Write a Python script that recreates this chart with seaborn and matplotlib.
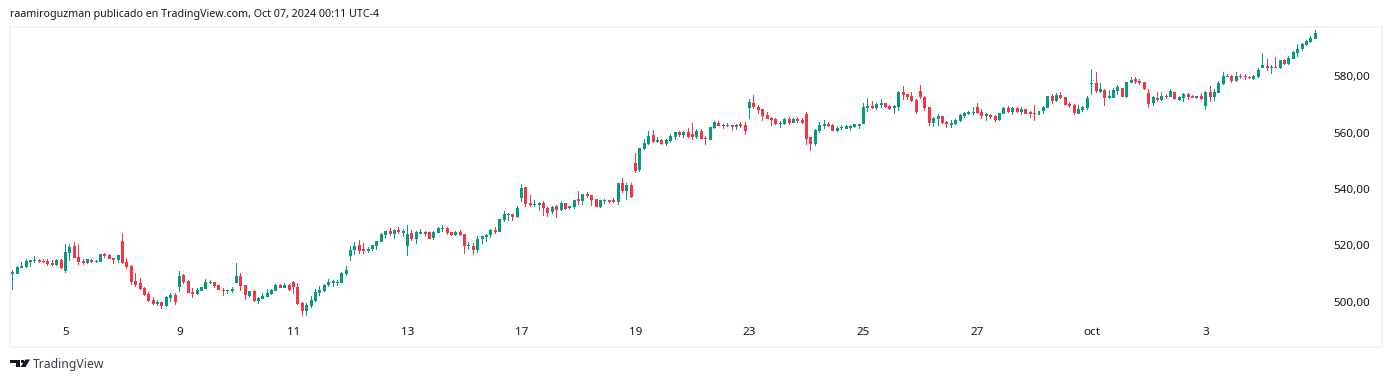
"""
SPY 30 minute candles, Sep 4 - Oct 4 2024, TradingView snapshot look.
"""
import matplotlib
matplotlib.use('Agg')
import matplotlib.pyplot as plt
from matplotlib.patches import Polygon
from matplotlib.transforms import ScaledTranslation
import numpy as np
import pandas as pd
import seaborn as sns

sns.set_style('white')
plt.rcParams['font.family'] = ['Noto Sans', 'DejaVu Sans']

GREEN = '#089981'
RED = '#f23645'
TEXT = '#131722'
BORDER = '#f0f3fa'

directions = list(
    'G' 'GGGGGG' 'RRRR' 'G' 'R' 'GG' 'RRR' 'G' 'R' 'GG' 'RRR' 'G' 'RRRRRRRR' 'G' 'R' 'GG' 'R'
    'GRRRGGGGRRRGGGRRGRGGGGGRGRRRRGGGGGGGGGG'
    'GGRRGGGGGRGRGGRGGRRGGGRRGRRGRGGGGRGGGRG'
    'GRRGGRRGRGRGGRGRRRGGRRGRGRRGGGRGRGGGRGR'
    'RGRRGGRRGRGRRGRRRRRRGGRGRRRRGGGRRGGGGGG'
    'GGRGGRRGGRRRRRRRGGRRGGGGGGRRGRRGGRGRGR'
    'RRGGGRGRRRRGGGGRGRGGGRGGRRRRGRGRGRGGRRG'
    'RGRGGGGRGRRRGGGRGRGRGGGGGGG'
)

highs = [
    510.3,
    511.5, 512.9, 514.3, 515.4, 515.1, 516.5, 515.4, 515.4, 515.4, 515.1, 515.4, 515.4, 520.7,
    520.7, 521.4, 520.7, 515.4, 515.4, 515.4, 515.1, 517.2, 517.5, 517.2, 515.8, 516.8, 524.6,
    515.8, 513.3, 510.4, 508.7, 505.5, 503.7, 501.9, 500.9, 500.2, 502.3, 503.3, 503.3,
    511.2, 510.1, 508.0, 505.1, 505.1, 505.5, 508.3, 508.0, 507.2, 506.2, 505.1, 504.4, 505.5,
    514.0, 510.4, 506.2, 504.0, 504.4, 501.9, 503.3, 504.8, 504.8, 506.5, 506.5, 506.9, 506.5,
    507.6, 506.9, 500.2, 499.8, 502.3, 504.8, 505.8, 506.5, 508.3, 508.0, 508.0, 510.8, 512.9,
    520.0, 521.4, 522.2, 521.1, 519.7, 520.4, 521.8, 524.6, 525.4, 526.4, 526.1, 526.8, 526.1,
    527.5, 525.7, 525.4, 526.1, 525.4, 525.0, 525.4, 526.8, 527.5, 526.8, 525.0, 525.4, 525.7,
    524.3, 521.4, 521.1, 523.6, 523.6, 524.3, 526.1, 526.8, 529.6, 532.4, 531.7, 531.4, 534.2,
    542.0, 540.9, 538.1, 536.3, 535.6, 536.0, 533.9, 534.2, 534.6, 536.0, 535.3, 534.2, 536.3,
    539.5, 538.5, 539.2, 538.1, 536.7, 536.3, 536.7, 536.3, 537.1, 542.4, 544.2, 542.4, 542.4,
    553.0, 554.8, 558.0, 560.8, 561.2, 558.7, 558.0, 558.0, 559.8, 560.5, 560.8, 560.8, 561.9,
    563.7, 561.5, 561.5, 559.1, 562.3, 564.4, 564.4, 563.3, 563.7, 563.0, 563.3, 564.0, 564.0,
    572.2, 573.6, 570.1, 568.6, 567.6, 565.8, 565.5, 564.4, 565.5, 565.8, 565.5, 565.8, 565.5,
    567.6, 558.7, 561.5, 564.0, 564.7, 564.0, 563.3, 562.6, 563.0, 563.0, 563.0, 563.3, 563.3,
    570.8, 572.5, 571.5, 570.8, 572.2, 570.8, 570.1, 570.1, 575.0, 576.8, 574.0, 574.7, 572.2,
    577.1, 573.3, 569.4, 565.8, 566.9, 566.2, 564.4, 564.7, 565.1, 566.9, 567.6, 567.9, 569.4,
    570.8, 568.6, 567.2, 566.9, 566.5, 567.2, 569.4, 569.7, 569.4, 569.4, 569.4, 568.6,
    567.9, 570.1, 568.3, 569.7, 573.3, 574.0, 574.3, 574.7, 572.9, 571.1, 570.4, 570.1, 569.7,
    573.3, 582.8, 581.8, 577.9, 575.7, 575.4, 576.1, 577.2, 576.1, 578.2, 580.0, 580.0, 579.3,
    578.2, 575.7, 573.3, 574.7, 574.7, 574.0, 575.7, 574.7, 573.3, 574.3, 574.3, 573.6, 573.3,
    574.3, 575.0, 576.8, 575.7, 578.6, 581.8, 581.1, 580.7, 581.8, 581.1, 581.1, 580.4, 580.7,
    583.2, 588.5, 586.4, 584.3, 587.1, 586.0, 586.4, 587.5, 589.2, 591.7, 592.1, 593.1, 594.6,
    596.7,
]

body_tops = [
    510.3,
    510.9, 512.5, 512.9, 514.7, 515.1, 515.1, 515.1, 514.7, 514.7, 514.0, 515.1, 515.1, 517.9,
    519.7, 520.0, 516.1, 514.7, 515.4, 515.1, 514.7, 517.2, 517.2, 516.8, 515.8, 516.8, 521.8,
    514.3, 512.9, 507.6, 506.9, 505.1, 503.0, 500.9, 500.2, 500.2, 501.9, 502.6, 502.6,
    509.4, 509.7, 507.6, 503.7, 504.4, 505.5, 507.2, 507.2, 507.2, 506.2, 504.4, 504.4, 504.8,
    509.4, 509.4, 506.2, 504.0, 504.0, 501.6, 502.3, 503.3, 504.4, 506.2, 506.2, 506.2, 506.2,
    507.2, 505.5, 499.8, 499.1, 500.9, 503.7, 504.4, 506.2, 507.2, 507.6, 507.2, 510.4, 511.5,
    518.6, 520.0, 520.4, 519.0, 519.0, 520.4, 521.8, 524.3, 525.4, 525.4, 525.7, 525.7, 525.4,
    524.3, 524.6, 525.0, 525.0, 525.0, 525.0, 525.0, 526.4, 526.4, 526.4, 525.0, 525.0, 525.0,
    524.3, 520.4, 520.0, 522.5, 523.6, 523.9, 525.7, 525.7, 529.6, 531.4, 531.4, 531.4, 533.5,
    540.6, 540.9, 535.3, 534.9, 535.3, 535.3, 533.5, 533.9, 534.2, 535.3, 535.3, 534.2, 536.3,
    536.7, 538.5, 538.5, 538.1, 536.7, 536.3, 536.3, 536.3, 536.3, 542.4, 542.4, 541.7, 541.7,
    549.5, 554.8, 556.6, 559.1, 559.4, 557.6, 557.6, 557.6, 559.1, 560.5, 560.5, 560.5, 560.5,
    559.8, 560.8, 560.8, 558.4, 562.3, 564.0, 563.7, 563.0, 563.0, 563.0, 563.0, 563.3, 563.0,
    571.1, 570.8, 569.4, 568.6, 566.5, 565.5, 565.1, 563.7, 565.1, 565.1, 565.1, 565.1, 564.7,
    566.9, 558.7, 561.2, 563.0, 563.3, 563.3, 563.0, 561.9, 562.3, 562.6, 562.6, 563.3, 563.3,
    569.4, 569.7, 569.7, 570.4, 570.8, 570.8, 569.7, 569.7, 574.7, 574.7, 574.0, 573.3, 571.8,
    575.0, 572.9, 569.4, 565.4, 566.2, 566.2, 564.0, 563.7, 564.7, 566.5, 567.2, 567.6, 567.6,
    569.4, 567.6, 566.9, 566.5, 566.2, 567.2, 569.0, 569.0, 569.0, 569.0, 568.6, 568.6,
    567.6, 567.2, 567.9, 569.4, 573.3, 573.3, 573.6, 573.6, 572.9, 570.4, 570.1, 568.6, 569.4,
    572.5, 577.9, 577.9, 575.7, 575.4, 573.3, 575.4, 576.4, 576.1, 578.2, 578.9, 579.3, 578.6,
    578.2, 574.3, 572.9, 572.5, 573.3, 573.3, 575.0, 574.7, 572.9, 574.0, 574.0, 573.3, 573.3,
    573.3, 574.7, 574.7, 574.7, 577.9, 580.4, 580.4, 580.4, 580.4, 580.4, 580.4, 580.0, 580.4,
    582.5, 584.3, 583.9, 583.5, 583.5, 586.0, 586.0, 586.7, 588.9, 589.9, 591.7, 592.8, 593.8,
    595.6,
]

body_bottoms = [
    505.6,
    510.1, 510.1, 512.2, 512.6, 514.3, 514.7, 514.3, 514.3, 513.6, 513.3, 513.3, 512.2, 511.2,
    517.5, 515.8, 514.3, 514.0, 514.0, 514.3, 514.3, 514.3, 516.5, 515.4, 515.1, 515.1, 514.0,
    512.6, 507.2, 506.2, 504.8, 502.6, 500.5, 499.4, 499.4, 498.7, 498.7, 501.6, 500.2,
    505.5, 507.2, 503.3, 503.0, 503.0, 504.0, 504.8, 506.9, 505.8, 504.4, 504.0, 504.0, 504.0,
    506.9, 505.8, 502.6, 502.3, 500.5, 500.5, 501.2, 501.9, 503.0, 504.0, 505.1, 505.1, 504.4,
    505.5, 499.4, 497.0, 497.0, 498.7, 500.5, 503.3, 504.0, 506.2, 506.9, 506.9, 506.9, 510.1,
    516.5, 518.6, 518.3, 518.3, 518.3, 519.0, 520.0, 521.4, 523.9, 524.3, 524.3, 525.0, 524.6,
    520.0, 522.5, 522.5, 524.3, 524.3, 522.5, 522.9, 524.6, 526.1, 524.6, 523.9, 523.9, 523.9,
    520.0, 520.0, 518.6, 518.6, 522.5, 523.2, 523.9, 525.0, 525.0, 529.3, 531.1, 530.3, 530.3,
    537.1, 534.9, 534.6, 534.6, 534.6, 533.5, 531.7, 532.1, 532.8, 532.8, 533.1, 533.5, 533.9,
    536.0, 536.0, 537.8, 536.3, 533.9, 533.9, 536.0, 535.6, 535.6, 535.6, 539.5, 539.5, 537.4,
    546.6, 547.0, 554.4, 556.2, 556.9, 556.9, 556.2, 556.2, 557.3, 558.7, 559.4, 559.4, 558.7,
    558.7, 558.7, 558.0, 558.0, 557.6, 561.9, 562.6, 562.6, 562.6, 562.3, 562.3, 562.6, 560.8,
    569.0, 569.4, 568.3, 566.2, 565.1, 564.7, 563.3, 563.3, 563.3, 563.7, 563.7, 564.4, 563.7,
    558.0, 556.2, 556.2, 560.8, 562.6, 562.6, 560.8, 560.8, 561.9, 561.5, 561.9, 562.3, 562.6,
    563.3, 569.0, 569.0, 569.0, 570.1, 569.4, 568.6, 569.0, 569.4, 573.6, 572.9, 571.5, 567.6,
    572.9, 569.0, 563.7, 563.7, 565.1, 563.7, 563.3, 563.0, 563.3, 564.4, 566.2, 566.9, 567.2,
    567.2, 566.2, 566.2, 565.8, 564.7, 564.7, 566.9, 567.6, 567.6, 567.6, 567.6, 566.9,
    566.9, 567.0, 566.5, 567.9, 569.0, 571.5, 571.5, 572.5, 570.1, 569.7, 567.2, 566.9, 568.3,
    569.0, 577.5, 575.0, 574.7, 572.5, 572.5, 572.5, 575.0, 572.9, 572.9, 577.9, 578.2, 577.9,
    575.7, 570.4, 570.8, 571.8, 571.8, 572.9, 572.9, 572.2, 571.8, 572.5, 572.9, 572.5, 572.5,
    572.2, 569.7, 572.9, 572.9, 574.3, 577.5, 580.0, 578.6, 578.6, 580.0, 580.0, 579.6, 579.3,
    580.0, 583.2, 583.2, 583.2, 583.2, 583.2, 584.6, 584.6, 586.4, 588.5, 589.9, 591.4, 592.4,
    593.5,
]

lows = [
    505.6,
    504.4, 510.1, 512.2, 512.1, 512.6, 514.0, 514.0, 514.0, 512.9, 512.9, 512.9, 511.9, 510.4,
    514.7, 515.8, 513.3, 513.3, 513.6, 514.0, 514.0, 514.3, 515.8, 515.4, 513.6, 514.0, 513.6,
    511.9, 506.2, 505.5, 504.4, 502.3, 500.2, 499.1, 498.7, 497.7, 498.4, 500.2, 499.1,
    503.7, 506.5, 503.3, 501.6, 502.6, 504.0, 504.8, 506.5, 505.1, 504.4, 502.3, 503.0, 503.3,
    506.9, 504.0, 500.9, 501.6, 500.2, 499.4, 501.2, 501.9, 502.6, 504.0, 505.1, 505.1, 504.0,
    503.0, 499.1, 495.2, 495.2, 498.0, 500.2, 502.3, 503.7, 505.5, 505.5, 505.8, 506.9, 509.4,
    514.7, 516.8, 517.2, 517.2, 517.5, 518.3, 518.6, 521.4, 522.9, 523.6, 522.5, 524.3, 523.2,
    516.5, 521.8, 520.7, 524.3, 523.6, 522.5, 522.2, 524.6, 525.0, 523.9, 523.6, 523.6, 523.6,
    517.2, 518.6, 516.8, 517.5, 520.7, 521.4, 522.9, 524.3, 525.0, 528.5, 528.9, 528.9, 530.0,
    535.6, 533.9, 533.9, 533.9, 532.4, 530.7, 530.3, 531.4, 530.0, 532.4, 532.8, 532.8, 533.1,
    534.6, 534.6, 537.1, 534.2, 533.9, 533.5, 534.9, 534.9, 535.3, 534.6, 538.8, 536.3, 537.1,
    545.9, 546.3, 554.1, 555.9, 556.6, 556.6, 555.9, 555.5, 556.6, 557.6, 558.7, 558.4, 558.4,
    557.6, 558.0, 558.0, 555.9, 557.6, 561.5, 562.6, 561.5, 562.3, 560.8, 561.2, 561.9, 559.4,
    565.1, 568.6, 566.9, 564.4, 565.1, 562.6, 563.0, 561.9, 563.0, 563.0, 563.7, 563.7, 563.3,
    555.9, 553.7, 555.5, 560.1, 561.5, 562.3, 560.8, 560.5, 561.2, 561.5, 560.8, 561.9, 561.5,
    563.3, 567.6, 568.6, 568.3, 569.0, 569.0, 568.3, 566.9, 567.9, 571.8, 571.8, 571.1, 566.9,
    572.2, 567.9, 562.6, 562.2, 562.6, 563.3, 561.9, 561.9, 563.0, 564.0, 565.4, 566.5, 566.5,
    566.9, 565.1, 564.4, 565.1, 564.0, 564.4, 566.9, 567.2, 566.5, 567.2, 566.5, 566.9,
    565.4, 564.4, 564.4, 566.9, 569.0, 570.4, 571.1, 572.2, 570.1, 569.0, 566.5, 566.9, 567.6,
    568.3, 573.6, 574.3, 574.3, 569.7, 572.2, 572.5, 573.6, 572.9, 572.5, 577.9, 577.5, 577.2,
    575.4, 569.0, 569.7, 571.1, 571.5, 572.2, 572.9, 571.8, 571.5, 571.1, 571.8, 572.5, 572.2,
    571.8, 568.3, 571.1, 571.5, 574.3, 577.2, 580.0, 577.9, 578.2, 579.3, 578.9, 579.3, 578.9,
    579.6, 583.2, 582.1, 581.1, 583.2, 582.8, 584.3, 584.3, 586.4, 587.1, 589.2, 591.0, 592.1,
    593.5,
]

price_ticks = [500, 520, 540, 560, 580]
date_ticks = [13, 39, 65, 91, 117, 143, 169, 195, 221, 247, 273]
date_labels = ['5', '9', '11', '13', '17', '19', '23', '25', '27', 'oct', '3']

df = pd.DataFrame({
    'bar': np.arange(len(highs)),
    'high': highs,
    'low': lows,
    'top': body_tops,
    'bottom': body_bottoms,
    'direction': directions,
})
df['range'] = df['high'] - df['low']
df['body'] = df['top'] - df['bottom']

# ── Figure, pane is one axes with a pale frame ────────────────────────────────
W, H = 1392, 382
fig = plt.figure(figsize=(W / 100, H / 100), dpi=100, facecolor='white')
ax = fig.add_axes([10 / W, 1 - 346.5 / H, 1372 / W, 319.5 / H])

# ── Candles ───────────────────────────────────────────────────────────────────
for key, color in [('G', GREEN), ('R', RED)]:
    sub = df[df['direction'] == key]
    sns.barplot(data=sub, x='bar', y='range', bottom=sub['low'].values, native_scale=True,
                width=0.228, color=color, saturation=1, errorbar=None, linewidth=0, ax=ax)
    sns.barplot(data=sub, x='bar', y='body', bottom=sub['bottom'].values, native_scale=True,
                width=0.684, color=color, saturation=1, errorbar=None, linewidth=0, ax=ax)

ax.set_xlim(0.34, 313.22)
ax.set_ylim(484.35, 597.75)
ax.set_xlabel('')
ax.set_ylabel('')

# ── Axis labels sit inside the frame ──────────────────────────────────────────
ax.yaxis.tick_right()
ax.set_yticks(price_ticks)
ax.set_yticklabels([f'{p},00' for p in price_ticks])
ax.tick_params(axis='y', length=0, pad=-35.2, labelsize=8.4, labelcolor=TEXT)
ax.set_xticks(date_ticks)
ax.set_xticklabels(date_labels)
ax.tick_params(axis='x', length=0, pad=-13.8, labelsize=8.4, labelcolor=TEXT)
for lab in ax.get_xticklabels():
    if lab.get_text() == 'oct':
        lab.set_fontweight('bold')
lift = ScaledTranslation(0, 0.7 / 100, fig.dpi_scale_trans)
for lab in ax.get_yticklabels():
    lab.set_transform(lab.get_transform() + lift)

for s in ax.spines.values():
    s.set_visible(True)
    s.set_color(BORDER)
    s.set_linewidth(1.44)

# ── Header and footer ─────────────────────────────────────────────────────────
fig.text(10 / W, 1 - 14 / H, 'raamiroguzman publicado en TradingView.com, Oct 07, 2024 00:11 UTC-4',
         fontsize=7.68, color=TEXT, ha='left', va='center')
fig.text(33 / W, 1 - 364.5 / H, 'TradingView', fontsize=8.8, color='#3a3e4a', ha='left', va='center')


def px(points):
    return [(x / W, 1 - y / H) for x, y in points]


fig.add_artist(Polygon(px([(10, 359.5), (19.5, 359.5), (19.5, 367), (15.5, 367), (15.5, 363), (10, 363)]),
                       closed=True, fc=TEXT, ec='none', transform=fig.transFigure))
fig.add_artist(Polygon(px([(25.5, 359.5), (30, 359.5), (25.5, 367), (20.5, 367)]),
                       closed=True, fc=TEXT, ec='none', transform=fig.transFigure))
fig.add_artist(Polygon(px([(20.5, 359.5), (23.5, 359.5), (23.5, 362.5), (20.5, 362.5)]),
                       closed=True, fc=TEXT, ec='none', transform=fig.transFigure))

fig.savefig('out.png', dpi=100)
plt.close(fig)
